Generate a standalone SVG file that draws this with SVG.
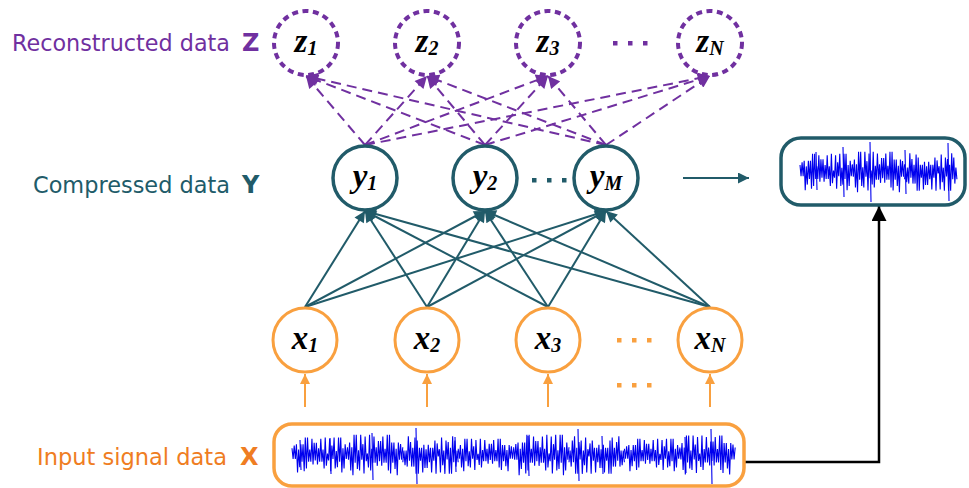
<svg xmlns="http://www.w3.org/2000/svg" xmlns:xlink="http://www.w3.org/1999/xlink" width="969" height="488" viewBox="0 0 969 488">
<style>
.lbl{font-family:"DejaVu Sans","Verdana",sans-serif;font-size:23px}
.bl{font-family:"DejaVu Sans","Verdana",sans-serif;font-size:24px;font-weight:bold}
.var{font-family:"Liberation Serif","Times New Roman",serif;font-style:italic;font-weight:bold;font-size:33px;fill:#000}
.sub{font-size:20px}
.zc{fill:#fff;stroke:#7030a0;stroke-width:4;stroke-dasharray:6 4.5}
.yc{fill:#fff;stroke:#215b69;stroke-width:3.5}
.xc{fill:#fff;stroke:#f9a03f;stroke-width:3}
.dz{stroke:#7030a0;stroke-width:2;stroke-dasharray:10 6;fill:none}
.ty{stroke:#215b69;stroke-width:2;fill:none}
.ox{stroke:#f9a03f;stroke-width:2;fill:none}
.sig{stroke:#0000ee;stroke-width:1.1;fill:none;vector-effect:non-scaling-stroke;stroke-linejoin:miter}
</style>
<defs>
<marker id="ap" viewBox="0 0 10 10" refX="10" refY="5" markerUnits="userSpaceOnUse" markerWidth="13" markerHeight="12" orient="auto"><path d="M0,0 L10,5 L0,10 z" fill="#7030a0"/></marker>
<marker id="at" viewBox="0 0 10 10" refX="10" refY="5" markerUnits="userSpaceOnUse" markerWidth="13" markerHeight="11" orient="auto"><path d="M0,0 L10,5 L0,10 z" fill="#215b69"/></marker>
<marker id="atb" viewBox="0 0 10 10" refX="10" refY="5" markerUnits="userSpaceOnUse" markerWidth="16" markerHeight="11" orient="auto"><path d="M0,0 L10,5 L0,10 z" fill="#215b69"/></marker>
<marker id="ao" viewBox="0 0 10 10" refX="10" refY="5" markerUnits="userSpaceOnUse" markerWidth="13" markerHeight="10" orient="auto"><path d="M0,0 L10,5 L0,10 z" fill="#f9a03f"/></marker>
<marker id="ak" viewBox="0 0 10 10" refX="10" refY="5" markerUnits="userSpaceOnUse" markerWidth="21" markerHeight="15" orient="auto"><path d="M0,0 L10,5 L0,10 z" fill="#000"/></marker>
<path id="n" class="sig" d="M0 -5 L1.2 3 2.4 -7 3.6 3 4.8 -8 6 13 7.2 -4 8.4 9 9.6 -8 10.8 5 12 -8 13.2 12 14.4 -13 15.6 10 16.8 -13 18 5 19.2 -4 20.4 5 21.6 -12 22.8 7 24 -9 25.2 4 26.4 -9 27.6 7 28.8 -5 30 5 31.2 -12 32.4 5 33.6 -4 34.8 10 36 -13 37.2 8 38.4 -1 39.6 4 40.8 -12 42 12 43.2 -7 44.4 3 45.6 -13 46.8 10 48 -3 49.2 9 50.4 -13 51.6 5 52.8 -13 54 13 55.2 -5 56.4 10 57.6 -8 58.8 3 60 -5"/>
</defs>
<rect width="969" height="488" fill="#fff"/>

<!-- labels -->
<text class="lbl" x="12" y="51" fill="#7030a0" textLength="218" lengthAdjust="spacingAndGlyphs">Reconstructed data</text>
<text class="bl" x="242" y="51" fill="#7030a0">Z</text>
<text class="lbl" x="33" y="193" fill="#215b69" textLength="197" lengthAdjust="spacingAndGlyphs">Compressed data</text>
<text class="bl" x="242" y="193" fill="#215b69">Y</text>
<text class="lbl" x="37" y="465" fill="#ef7d22" textLength="190" lengthAdjust="spacingAndGlyphs">Input signal data</text>
<text class="bl" x="240" y="465" fill="#ef7d22">X</text>

<!-- connectors -->
<g id="connectors">
  <g class="dz" marker-end="url(#ap)">
    <line x1="365" y1="145" x2="306" y2="76"/>
    <line x1="365" y1="145" x2="427" y2="76"/>
    <line x1="365" y1="145" x2="548" y2="76"/>
    <line x1="365" y1="145" x2="710" y2="76"/>
    <line x1="485" y1="145" x2="306" y2="76"/>
    <line x1="485" y1="145" x2="427" y2="76"/>
    <line x1="485" y1="145" x2="548" y2="76"/>
    <line x1="485" y1="145" x2="710" y2="76"/>
    <line x1="606" y1="145" x2="306" y2="76"/>
    <line x1="606" y1="145" x2="427" y2="76"/>
    <line x1="606" y1="145" x2="548" y2="76"/>
    <line x1="606" y1="145" x2="710" y2="76"/>
  </g>
  <g class="ty" marker-end="url(#at)">
    <line x1="305" y1="307" x2="365" y2="211"/>
    <line x1="305" y1="307" x2="485" y2="211"/>
    <line x1="305" y1="307" x2="606" y2="211"/>
    <line x1="427" y1="307" x2="365" y2="211"/>
    <line x1="427" y1="307" x2="485" y2="211"/>
    <line x1="427" y1="307" x2="606" y2="211"/>
    <line x1="548" y1="307" x2="365" y2="211"/>
    <line x1="548" y1="307" x2="485" y2="211"/>
    <line x1="548" y1="307" x2="606" y2="211"/>
    <line x1="710" y1="307" x2="365" y2="211"/>
    <line x1="710" y1="307" x2="485" y2="211"/>
    <line x1="710" y1="307" x2="606" y2="211"/>
  </g>
  <g class="ox" marker-end="url(#ao)">
    <line x1="305" y1="407" x2="305" y2="374"/>
    <line x1="427" y1="407" x2="427" y2="374"/>
    <line x1="548" y1="407" x2="548" y2="374"/>
    <line x1="710" y1="407" x2="710" y2="374"/>
  </g>
  <line x1="683" y1="178" x2="749" y2="178" stroke="#215b69" stroke-width="2" marker-end="url(#atb)"/>
  <polyline points="744,462 879,462 879,206" fill="none" stroke="#000" stroke-width="2.5" marker-end="url(#ak)"/>
</g>

<!-- Z nodes -->
<g id="z1"><circle class="zc" cx="306" cy="43" r="32"/><text class="var" x="306" y="52" text-anchor="middle">z<tspan class="sub" dy="3">1</tspan></text></g>
<g id="z2"><circle class="zc" cx="427" cy="43" r="32"/><text class="var" x="427" y="52" text-anchor="middle">z<tspan class="sub" dy="3">2</tspan></text></g>
<g id="z3"><circle class="zc" cx="548" cy="43" r="32"/><text class="var" x="548" y="52" text-anchor="middle">z<tspan class="sub" dy="3">3</tspan></text></g>
<g id="zN"><circle class="zc" cx="710" cy="43" r="32"/><text class="var" x="710" y="52" text-anchor="middle">z<tspan class="sub" dy="3">N</tspan></text></g>
<g id="zdots" fill="#7030a0"><rect x="613" y="41" width="4.5" height="4.5"/><rect x="628" y="41" width="4.5" height="4.5"/><rect x="643" y="41" width="4.5" height="4.5"/></g>

<!-- Y nodes -->
<g id="y1"><circle class="yc" cx="365" cy="178" r="32"/><text class="var" x="365" y="187" text-anchor="middle">y<tspan class="sub" dy="3">1</tspan></text></g>
<g id="y2"><circle class="yc" cx="485" cy="178" r="32"/><text class="var" x="485" y="187" text-anchor="middle">y<tspan class="sub" dy="3">2</tspan></text></g>
<g id="yM"><circle class="yc" cx="606" cy="178" r="32"/><text class="var" x="606" y="187" text-anchor="middle">y<tspan class="sub" dy="3">M</tspan></text></g>
<g id="ydots" fill="#215b69"><rect x="532" y="178" width="4.5" height="4.5"/><rect x="547" y="178" width="4.5" height="4.5"/><rect x="562" y="178" width="4.5" height="4.5"/></g>

<!-- X nodes -->
<g id="x1"><circle class="xc" cx="305" cy="340" r="32"/><text class="var" x="305" y="349" text-anchor="middle">x<tspan class="sub" dy="3">1</tspan></text></g>
<g id="x2"><circle class="xc" cx="427" cy="340" r="32"/><text class="var" x="427" y="349" text-anchor="middle">x<tspan class="sub" dy="3">2</tspan></text></g>
<g id="x3"><circle class="xc" cx="548" cy="340" r="32"/><text class="var" x="548" y="349" text-anchor="middle">x<tspan class="sub" dy="3">3</tspan></text></g>
<g id="xN"><circle class="xc" cx="710" cy="340" r="32"/><text class="var" x="710" y="349" text-anchor="middle">x<tspan class="sub" dy="3">N</tspan></text></g>
<g id="xdots" fill="#f9a03f"><rect x="617" y="338" width="4.5" height="4.5"/><rect x="632" y="338" width="4.5" height="4.5"/><rect x="647" y="338" width="4.5" height="4.5"/><rect x="617" y="383" width="4.5" height="4.5"/><rect x="632" y="383" width="4.5" height="4.5"/><rect x="647" y="383" width="4.5" height="4.5"/></g>

<!-- Input signal box -->
<g id="input">
  <rect x="274" y="424" width="470" height="62" rx="18" fill="#fff" stroke="#f9a03f" stroke-width="3.5"/>
  <use xlink:href="#n" href="#n" transform="translate(292,455) scale(0.923,1.35)"/>
  <use xlink:href="#n" href="#n" transform="translate(347.4,455) scale(-0.923,1.55) translate(-60,0)"/>
  <use xlink:href="#n" href="#n" transform="translate(402.8,455) scale(0.923,-1.45)"/>
  <use xlink:href="#n" href="#n" transform="translate(458.2,455) scale(-0.923,1.25) translate(-60,0)"/>
  <use xlink:href="#n" href="#n" transform="translate(513.6,455) scale(0.923,1.55)"/>
  <use xlink:href="#n" href="#n" transform="translate(569,455) scale(-0.923,-1.45) translate(-60,0)"/>
  <use xlink:href="#n" href="#n" transform="translate(624.4,455) scale(0.923,1.25)"/>
  <use xlink:href="#n" href="#n" transform="translate(679.8,455) scale(-0.923,1.5) translate(-60,0)"/>
  <path class="sig" d="M372 433 L373 480 M416 428 L417 484 M528 436 L529 476 M578 429 L579 481 M711 429 L712 484 M602 436 L603 474 M330 438 L331 474 M455 437 L456 472 M685 437 L686 473 M300 440 L301 470"/>
</g>

<!-- Output signal box -->
<g id="output">
  <rect x="781" y="138" width="184" height="67" rx="20" fill="#fff" stroke="#215b69" stroke-width="3.5"/>
  <use xlink:href="#n" href="#n" transform="translate(800,172) scale(0.872,1.4)"/>
  <use xlink:href="#n" href="#n" transform="translate(852.3,172) scale(-0.872,1.55) translate(-60,0)"/>
  <use xlink:href="#n" href="#n" transform="translate(904.6,172) scale(0.872,-1.45)"/>
  <path class="sig" d="M843 147 L844 197 M870 142 L871 202 M948 143 L949 201 M905 150 L906 194 M816 152 L817 190"/>
</g>
</svg>
